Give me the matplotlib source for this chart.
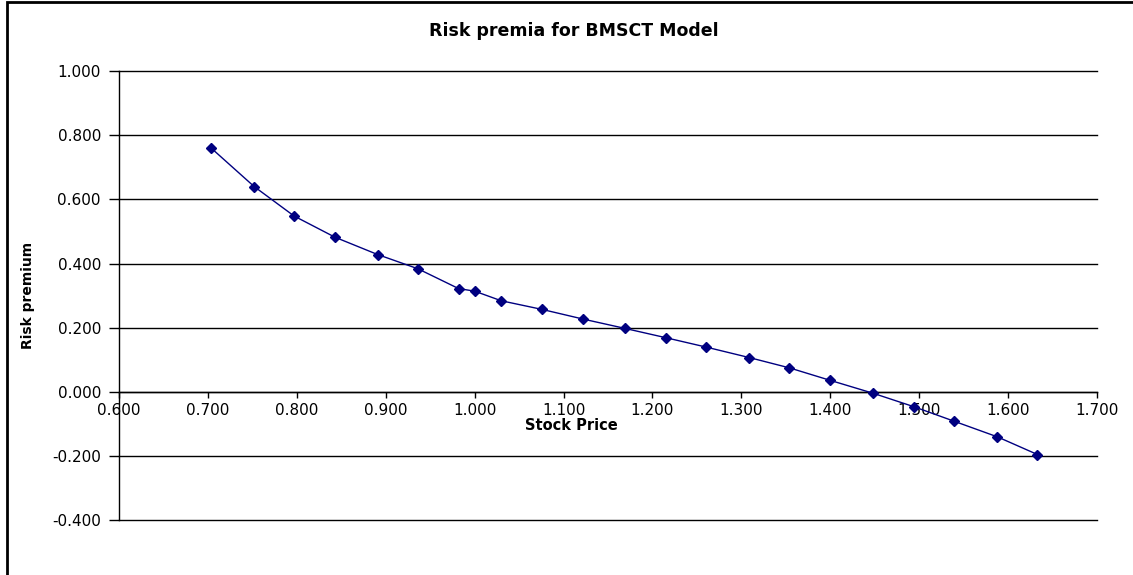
import matplotlib.pyplot as plt
from matplotlib.patches import Rectangle
from matplotlib.ticker import FixedLocator, FormatStrFormatter

plt.rcParams["font.family"] = ["DejaVu Sans"]

# values
stock_price = [0.704, 0.752, 0.797, 0.843, 0.891, 0.936, 0.982, 1.000, 1.030,
               1.076, 1.122, 1.169, 1.215, 1.260, 1.309, 1.354, 1.400, 1.448,
               1.494, 1.539, 1.588, 1.633]
risk_premium = [0.759, 0.640, 0.548, 0.482, 0.428, 0.384, 0.322, 0.314, 0.284,
                0.257, 0.227, 0.198, 0.169, 0.140, 0.107, 0.075, 0.036, -0.004,
                -0.046, -0.091, -0.140, -0.195]

x_ticks = [0.6, 0.7, 0.8, 0.9, 1.0, 1.1, 1.2, 1.3, 1.4, 1.5, 1.6, 1.7]
y_ticks = [-0.4, -0.2, 0.0, 0.2, 0.4, 0.6, 0.8, 1.0]

W, H = 1133, 575
fig = plt.figure(figsize=(W / 100, H / 100), dpi=100)
ax = fig.add_axes([119 / W, 1 - 520.3 / H, (1097 - 119) / W, (520.3 - 71) / H])

ax.plot(stock_price, risk_premium, color="#000080", lw=1.0, marker="D",
        markersize=5.5, markerfacecolor="#000080", markeredgecolor="#000080",
        zorder=3)

ax.set_xlim(0.6, 1.7)
ax.set_ylim(-0.4, 1.0)
ax.xaxis.set_major_locator(FixedLocator(x_ticks))
ax.yaxis.set_major_locator(FixedLocator(y_ticks))
ax.xaxis.set_major_formatter(FormatStrFormatter("%.3f"))
ax.yaxis.set_major_formatter(FormatStrFormatter("%.3f"))

# Excel-like axes: value axis at x=0.6, category axis crossing at y=0
for side in ["top", "right"]:
    ax.spines[side].set_visible(False)
ax.spines["bottom"].set_position(("data", 0.0))
ax.spines["bottom"].set_linewidth(1.0)
ax.spines["left"].set_linewidth(1.0)
ax.grid(axis="y", color="black", lw=1.0)
for gl in ax.yaxis.get_gridlines():
    gl.set_clip_on(False)
ax.set_axisbelow(True)

ax.tick_params(axis="x", direction="out", length=4, width=1, labelsize=11,
               pad=4)
ax.tick_params(axis="y", direction="out", length=7, width=1, labelsize=11,
               pad=6)

ax.set_ylabel("Risk premium", fontsize=10, fontweight="bold", labelpad=12)
fig.text(571 / W, 1 - 426 / H, "Stock Price", ha="center", va="center",
         fontsize=10.5, fontweight="bold")
fig.text(574 / W, 1 - 31 / H, "Risk premia for BMSCT Model", ha="center",
         va="center", fontsize=12.5, fontweight="bold")

# chart area frame (cut off at right and bottom in the original)
fig.patches.append(Rectangle((7 / W, -0.1), 1.2, 1 - 2 / H + 0.1,
                             transform=fig.transFigure, fill=False,
                             edgecolor="black", lw=2))

fig.savefig("out.png", dpi=100)
